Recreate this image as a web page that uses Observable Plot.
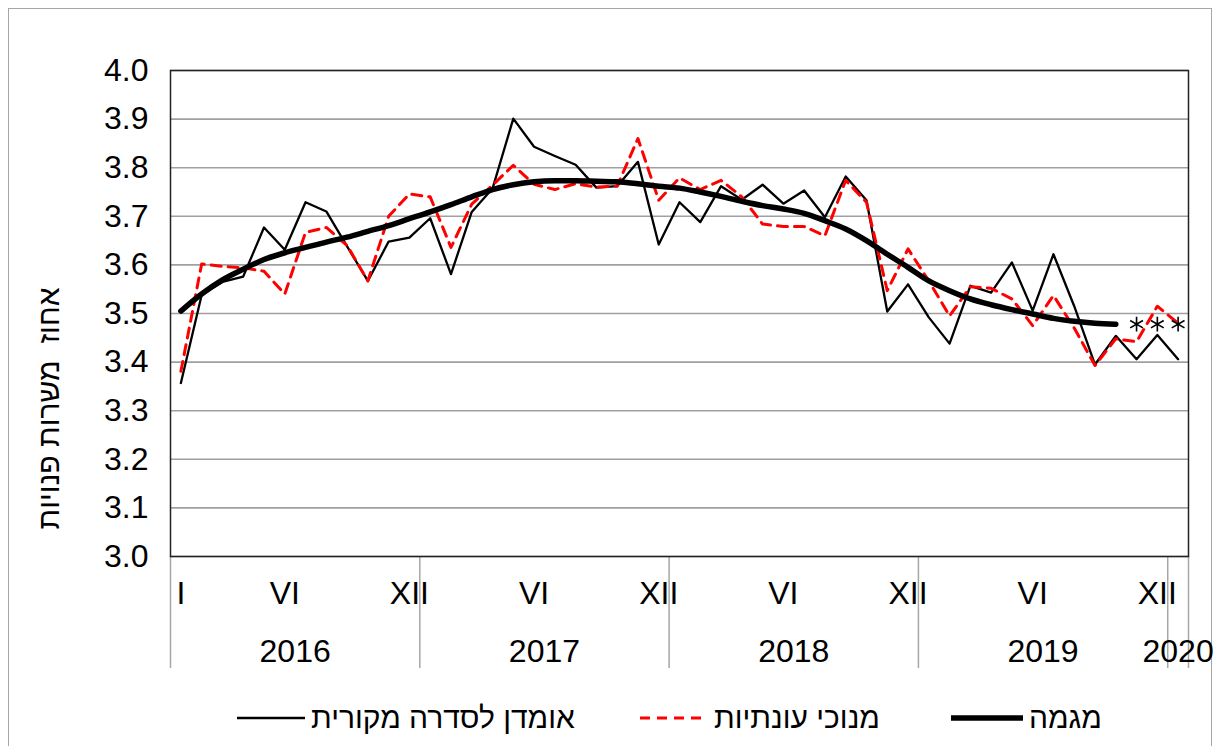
<!DOCTYPE html>
<html><head><meta charset="utf-8">
<script src="https://cdn.jsdelivr.net/npm/d3@7"></script>
<script src="https://cdn.jsdelivr.net/npm/@observablehq/plot@0.6"></script>
<style>
html,body{margin:0;padding:0;background:#fff;}
body{font-family:"Liberation Sans",Arial,sans-serif;}
#wrap{position:relative;width:1220px;height:746px;overflow:hidden;background:#fff;}
#border{position:absolute;left:8px;top:8px;width:1204px;height:746px;border:1.5px solid #a6a6a6;box-sizing:border-box;}
#chart{position:absolute;left:0;top:0;}
#legend{position:absolute;top:700px;left:0;width:1220px;height:36px;}
.item{position:absolute;top:0;height:36px;display:flex;align-items:center;font-size:30px;color:#000;white-space:nowrap;}
.item svg{display:block;margin-right:6px;}
</style></head><body>
<div id="wrap"><div id="border"></div><div id="chart"></div><div id="legend"></div></div>
<script>
// ---- data (Jan 2016 .. Jan 2020, monthly) ----
const years = ["2016", "2017", "2018", "2019", "2020"];
const yearFirstIndex = [0, 12, 24, 36, 48];
const yearLastIndex = [11, 23, 35, 47, 48];
const monthTickIndex = [0, 5, 11, 17, 23, 29, 35, 41, 47];
const monthTickLabels = ["I", "VI", "XII", "VI", "XII", "VI", "XII", "VI", "XII"];
const yTicks = [3.0, 3.1, 3.2, 3.3, 3.4, 3.5, 3.6, 3.7, 3.8, 3.9, 4.0];

// original series estimate
const original = [
  3.357, 3.538, 3.565, 3.576, 3.677, 3.631, 3.729, 3.710, 3.638, 3.567, 3.648, 3.656,
  3.696, 3.581, 3.709, 3.757, 3.901, 3.843, 3.824, 3.806, 3.759, 3.762, 3.812, 3.642,
  3.729, 3.688, 3.762, 3.734, 3.765, 3.726, 3.753, 3.698, 3.782, 3.733, 3.504, 3.560,
  3.492, 3.438, 3.557, 3.543, 3.605, 3.506, 3.622, 3.515, 3.395, 3.454, 3.406, 3.456,
  3.406
];
// seasonally adjusted
const seasonallyAdjusted = [
  3.381, 3.602, 3.597, 3.594, 3.587, 3.540, 3.667, 3.677, 3.640, 3.567, 3.700, 3.746,
  3.740, 3.636, 3.725, 3.764, 3.805, 3.766, 3.755, 3.767, 3.760, 3.762, 3.860, 3.733,
  3.779, 3.755, 3.774, 3.740, 3.684, 3.679, 3.679, 3.660, 3.774, 3.729, 3.547, 3.633,
  3.567, 3.495, 3.555, 3.552, 3.530, 3.475, 3.537, 3.470, 3.393, 3.448, 3.442, 3.515,
  3.480
];
// trend (ends Oct 2019)
const trend = [
  3.505, 3.540, 3.569, 3.591, 3.611, 3.625, 3.636, 3.647, 3.657, 3.669, 3.681, 3.695,
  3.709, 3.724, 3.740, 3.755, 3.765, 3.771, 3.773, 3.773, 3.772, 3.771, 3.767, 3.762,
  3.758, 3.750, 3.741, 3.731, 3.722, 3.715, 3.706, 3.691, 3.674, 3.650, 3.622, 3.595,
  3.567, 3.547, 3.530, 3.518, 3.508, 3.499, 3.490, 3.484, 3.480, 3.478
];
// asterisks marking months without a trend value
const pendingIndex = [46, 47, 48];
const pendingValue = [3.478, 3.478, 3.478];

const yLabel = "אחוז\u00a0 משרות פנויות";
const legendLabels = ["אומדן לסדרה מקורית", "מנוכי עונתיות", "מגמה"];

// ---- build ----
const rows = original.map((v, i) => ({i, original: v, sa: seasonallyAdjusted[i], trend: trend[i]}));
const trendRows = rows.filter(d => d.trend != null);
const pending = pendingIndex.map((i, k) => ({i, v: pendingValue[k]}));
const monthLabelOf = new Map(monthTickIndex.map((d, k) => [d, monthTickLabels[k]]));
const yearCenters = years.map((y, k) => (yearFirstIndex[k] + yearLastIndex[k]) / 2);
const yearOf = new Map(yearCenters.map((c, k) => [c, years[k]]));
const boundaries = [-0.5, ...yearLastIndex.map(e => e + 0.5)];
const font = "'Liberation Sans', Arial, sans-serif";

const chart = Plot.plot({
  width: 1220, height: 700,
  marginLeft: 170, marginRight: 32, marginTop: 70, marginBottom: 144,
  style: {fontFamily: font, fontSize: "32px", color: "#000", background: "transparent", overflow: "visible"},
  x: {domain: [-0.5, original.length - 0.5], axis: null, label: null},
  y: {domain: [3.0, 4.0], axis: null, label: null},
  marks: [
    Plot.gridY(yTicks, {stroke: "#a0a0a0", strokeOpacity: 1, strokeWidth: 1.6}),
    Plot.axisY(yTicks, {tickSize: 0, tickPadding: 22, tickFormat: d => d.toFixed(1), fontSize: 32, label: null}),
    Plot.axisX(boundaries, {tickSize: 112, tickFormat: () => "", stroke: "#a6a6a6", strokeWidth: 1.5, label: null}),
    Plot.axisX(monthTickIndex, {tickSize: 0, tickPadding: 25, tickFormat: d => monthLabelOf.get(d), fontSize: 32, label: null}),
    Plot.axisX(yearCenters, {tickSize: 0, tickPadding: 83, tickFormat: d => yearOf.get(d), fontSize: 32, label: null}),
    Plot.frame({stroke: "#222", strokeWidth: 1.5}),
    Plot.line(rows, {x: "i", y: "original", stroke: "#000", strokeWidth: 2.3}),
    Plot.line(rows, {x: "i", y: "sa", stroke: "#ff0000", strokeWidth: 3, strokeDasharray: "10,7"}),
    Plot.line(trendRows, {x: "i", y: "trend", stroke: "#000", strokeWidth: 5.5, strokeLinecap: "round", curve: "monotone-x"}),
    Plot.dot(pending, {x: "i", y: "v", symbol: "asterisk", r: 7, stroke: "#000", strokeWidth: 1.6}),
    Plot.text([yLabel], {text: d => d, frameAnchor: "left", textAnchor: "middle", rotate: -90, dx: -121, dy: 95, fontSize: 30, fill: "#000"})
  ]
});
document.getElementById("chart").appendChild(chart);

// legend
const legend = document.getElementById("legend");
const legendStyles = [
  {left: 237, w: 68, stroke: "#000", sw: 2.3, dash: null},
  {left: 640, w: 68, stroke: "#ff0000", sw: 3, dash: "10,7"},
  {left: 951, w: 72, stroke: "#000", sw: 5.5, dash: null}
];
legendLabels.forEach((lab, k) => {
  const s = legendStyles[k];
  const item = document.createElement("div");
  item.className = "item";
  item.style.left = s.left + "px";
  const svg = d3.create("svg").attr("width", s.w).attr("height", 20);
  svg.append("line").attr("x1", 0).attr("x2", s.w).attr("y1", 10).attr("y2", 10)
    .attr("stroke", s.stroke).attr("stroke-width", s.sw)
    .attr("stroke-dasharray", s.dash).attr("stroke-linecap", k === 2 ? "round" : "butt");
  item.appendChild(svg.node());
  const span = document.createElement("span");
  span.textContent = lab;
  item.appendChild(span);
  legend.appendChild(item);
});
</script>
</body></html>
